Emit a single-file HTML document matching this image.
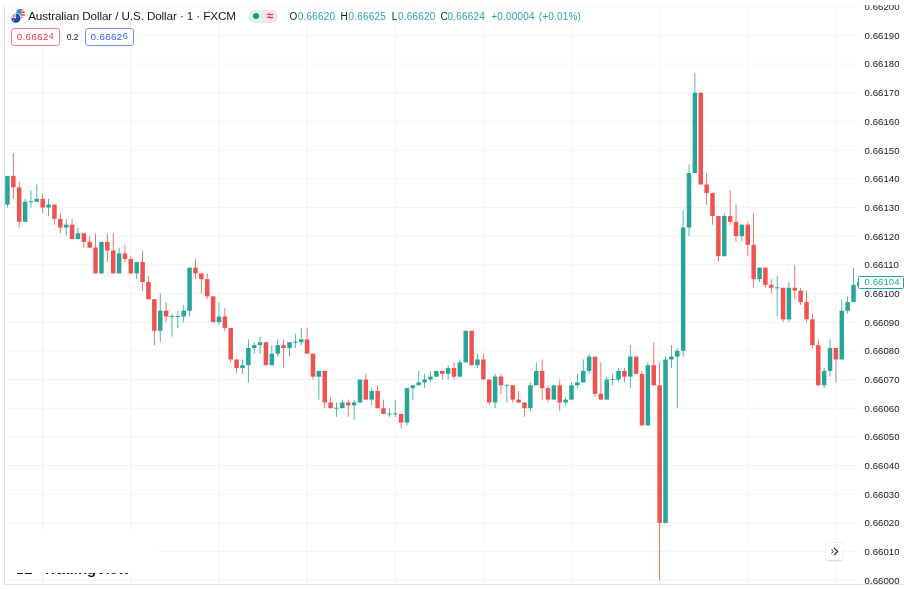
<!DOCTYPE html>
<html><head><meta charset="utf-8"><title>AUDUSD</title>
<style>
html,body{margin:0;padding:0;background:#fff;}
body{width:904px;height:589px;position:relative;overflow:hidden;font-family:"Liberation Sans",sans-serif;color:#131722;}
#clip{position:absolute;left:0;top:4.6px;width:904px;height:580px;overflow:hidden;}
#inner{position:absolute;left:0;top:-4.6px;width:904px;height:589px;}
svg{position:absolute;left:0;top:0;}
.g{stroke:#f3f4f6;stroke-width:1;}
.al{position:absolute;left:864.6px;width:40px;height:12px;line-height:12px;font-size:9.6px;letter-spacing:0.05px;color:#131722;white-space:nowrap;}
#lb{position:absolute;left:4px;top:5px;width:1px;height:580px;background:#dfe2ea;}
#bb{position:absolute;left:4px;top:584px;width:900px;height:1px;background:#dfe2ea;}
#title{position:absolute;left:28.2px;top:9.2px;height:14px;line-height:14px;font-size:11.7px;letter-spacing:-0.11px;white-space:nowrap;color:#131722;}
#ohlc{position:absolute;left:289.6px;top:10.5px;height:12px;line-height:12px;font-size:10px;white-space:nowrap;color:#131722;}
#ohlc span{color:#26a69a;}
#ohlc b,#ohlc span{font-weight:normal;position:absolute;top:0;letter-spacing:0.2px;}
.pill{position:absolute;left:248px;top:9.6px;width:29.6px;height:13px;border-radius:6.5px;overflow:hidden;background:#e1f3f0;}
.pill i{position:absolute;left:15px;top:0;width:15px;height:13px;background:#fbe2e9;}
.pill u{position:absolute;left:5.2px;top:3.4px;width:6.2px;height:6.2px;border-radius:50%;background:#0f9e82;}
.pill s{position:absolute;left:16px;top:-1px;width:12px;height:14px;line-height:14px;text-align:center;text-decoration:none;color:#e91e63;font-size:12px;font-weight:bold;font-style:italic;}
.bx{position:absolute;top:28.3px;height:15.4px;line-height:15.4px;border:1px solid;border-radius:3px;font-size:9.8px;letter-spacing:0.35px;text-align:center;box-sizing:content-box;background:#fff;}
.bx sup{font-size:8.8px;vertical-align:baseline;position:relative;top:-1.6px;}
#bid{left:10.8px;width:47.2px;color:#f23645;border-color:#f77c86;}
#ask{left:84.6px;width:47.3px;color:#2962ff;border-color:#6f95ff;}
#spr{position:absolute;left:66.7px;top:31px;font-size:8.6px;line-height:12px;color:#131722;}
#plab{position:absolute;left:858px;top:276.1px;width:43.5px;height:10.5px;border:1px solid #26a69a;border-radius:1.5px;background:#fff;color:#26a69a;font-size:9.6px;line-height:10.5px;letter-spacing:0.05px;padding-left:5.6px;box-sizing:content-box;width:38px;}
#ptick{position:absolute;left:856.6px;top:281.6px;width:2px;height:4.4px;border-radius:1px;background:#26a69a;}
#btn{position:absolute;left:826px;top:543px;width:17px;height:17px;border-radius:3px;background:#fff;box-shadow:0 0.5px 2px rgba(0,0,0,0.18);}
#cover{position:absolute;left:9px;top:530px;width:148.5px;height:42.3px;background:#fff;}
#tvw{position:absolute;left:10px;top:572.5px;width:140px;height:6px;overflow:hidden;}
#tvw div{position:absolute;left:32.6px;top:-12.6px;font-size:14.8px;line-height:18px;font-weight:bold;color:#131722;white-space:nowrap;letter-spacing:0px;}
#tvw em{position:absolute;top:0;height:1.6px;background:#131722;}
</style></head><body>
<div id="clip"><div id="inner">
<svg width="904" height="589" viewBox="0 0 904 589">
<line x1="5" x2="858" y1="580.30" y2="580.30" class="g"/>
<line x1="5" x2="858" y1="551.62" y2="551.62" class="g"/>
<line x1="5" x2="858" y1="522.94" y2="522.94" class="g"/>
<line x1="5" x2="858" y1="494.26" y2="494.26" class="g"/>
<line x1="5" x2="858" y1="465.58" y2="465.58" class="g"/>
<line x1="5" x2="858" y1="436.90" y2="436.90" class="g"/>
<line x1="5" x2="858" y1="408.22" y2="408.22" class="g"/>
<line x1="5" x2="858" y1="379.54" y2="379.54" class="g"/>
<line x1="5" x2="858" y1="350.86" y2="350.86" class="g"/>
<line x1="5" x2="858" y1="322.18" y2="322.18" class="g"/>
<line x1="5" x2="858" y1="293.50" y2="293.50" class="g"/>
<line x1="5" x2="858" y1="264.82" y2="264.82" class="g"/>
<line x1="5" x2="858" y1="236.14" y2="236.14" class="g"/>
<line x1="5" x2="858" y1="207.46" y2="207.46" class="g"/>
<line x1="5" x2="858" y1="178.78" y2="178.78" class="g"/>
<line x1="5" x2="858" y1="150.10" y2="150.10" class="g"/>
<line x1="5" x2="858" y1="121.42" y2="121.42" class="g"/>
<line x1="5" x2="858" y1="92.74" y2="92.74" class="g"/>
<line x1="5" x2="858" y1="64.06" y2="64.06" class="g"/>
<line x1="5" x2="858" y1="35.38" y2="35.38" class="g"/>
<line x1="5" x2="858" y1="6.70" y2="6.70" class="g"/>
<line x1="42.70" x2="42.70" y1="5" y2="584" class="g"/>
<line x1="130.83" x2="130.83" y1="5" y2="584" class="g"/>
<line x1="218.97" x2="218.97" y1="5" y2="584" class="g"/>
<line x1="307.10" x2="307.10" y1="5" y2="584" class="g"/>
<line x1="395.24" x2="395.24" y1="5" y2="584" class="g"/>
<line x1="483.37" x2="483.37" y1="5" y2="584" class="g"/>
<line x1="571.50" x2="571.50" y1="5" y2="584" class="g"/>
<line x1="659.64" x2="659.64" y1="5" y2="584" class="g"/>
<line x1="747.77" x2="747.77" y1="5" y2="584" class="g"/>
<line x1="835.91" x2="835.91" y1="5" y2="584" class="g"/>
</svg>
<div id="lb"></div>
<svg width="904" height="589" viewBox="0 0 904 589">
<defs><clipPath id="cp"><rect x="5" y="0" width="853" height="584"/></clipPath></defs>
<g clip-path="url(#cp)">
<rect x="7.05" y="175.91" width="0.8" height="31.55" fill="#26a69a"/>
<rect x="5.20" y="175.91" width="4.5" height="28.68" fill="#26a69a"/>
<rect x="12.92" y="152.97" width="0.8" height="45.89" fill="#ef5350"/>
<rect x="11.07" y="175.91" width="4.5" height="11.47" fill="#ef5350"/>
<rect x="18.80" y="181.65" width="0.8" height="45.89" fill="#ef5350"/>
<rect x="16.95" y="187.38" width="4.5" height="34.42" fill="#ef5350"/>
<rect x="24.67" y="198.86" width="0.8" height="22.94" fill="#26a69a"/>
<rect x="22.82" y="201.72" width="4.5" height="20.08" fill="#26a69a"/>
<rect x="30.55" y="190.25" width="0.8" height="17.21" fill="#26a69a"/>
<rect x="28.70" y="201.22" width="4.5" height="1.00" fill="#26a69a"/>
<rect x="36.42" y="184.52" width="0.8" height="17.21" fill="#26a69a"/>
<rect x="34.57" y="198.86" width="4.5" height="2.87" fill="#26a69a"/>
<rect x="42.30" y="193.12" width="0.8" height="20.08" fill="#ef5350"/>
<rect x="40.45" y="198.86" width="4.5" height="8.60" fill="#ef5350"/>
<rect x="48.18" y="198.86" width="0.8" height="17.21" fill="#26a69a"/>
<rect x="46.33" y="204.59" width="4.5" height="2.87" fill="#26a69a"/>
<rect x="54.05" y="204.59" width="0.8" height="20.08" fill="#ef5350"/>
<rect x="52.20" y="204.59" width="4.5" height="14.34" fill="#ef5350"/>
<rect x="59.93" y="213.20" width="0.8" height="20.08" fill="#ef5350"/>
<rect x="58.08" y="218.93" width="4.5" height="8.60" fill="#ef5350"/>
<rect x="65.80" y="218.93" width="0.8" height="17.21" fill="#26a69a"/>
<rect x="63.95" y="224.67" width="4.5" height="2.87" fill="#26a69a"/>
<rect x="71.68" y="218.93" width="0.8" height="20.08" fill="#ef5350"/>
<rect x="69.83" y="224.67" width="4.5" height="14.34" fill="#ef5350"/>
<rect x="77.55" y="227.54" width="0.8" height="11.47" fill="#26a69a"/>
<rect x="75.70" y="233.27" width="4.5" height="5.74" fill="#26a69a"/>
<rect x="83.43" y="233.27" width="0.8" height="14.34" fill="#ef5350"/>
<rect x="81.58" y="233.27" width="4.5" height="8.60" fill="#ef5350"/>
<rect x="89.30" y="236.14" width="0.8" height="11.47" fill="#ef5350"/>
<rect x="87.45" y="241.88" width="4.5" height="5.74" fill="#ef5350"/>
<rect x="95.18" y="233.27" width="0.8" height="40.15" fill="#ef5350"/>
<rect x="93.33" y="247.61" width="4.5" height="25.81" fill="#ef5350"/>
<rect x="101.06" y="241.88" width="0.8" height="31.55" fill="#26a69a"/>
<rect x="99.21" y="241.88" width="4.5" height="31.55" fill="#26a69a"/>
<rect x="106.93" y="233.27" width="0.8" height="28.68" fill="#ef5350"/>
<rect x="105.08" y="241.88" width="4.5" height="8.60" fill="#ef5350"/>
<rect x="112.81" y="233.27" width="0.8" height="40.15" fill="#ef5350"/>
<rect x="110.96" y="250.48" width="4.5" height="22.94" fill="#ef5350"/>
<rect x="118.68" y="247.61" width="0.8" height="25.81" fill="#26a69a"/>
<rect x="116.83" y="253.35" width="4.5" height="20.08" fill="#26a69a"/>
<rect x="124.56" y="244.74" width="0.8" height="17.21" fill="#ef5350"/>
<rect x="122.71" y="253.35" width="4.5" height="5.74" fill="#ef5350"/>
<rect x="130.43" y="256.22" width="0.8" height="17.21" fill="#ef5350"/>
<rect x="128.58" y="259.08" width="4.5" height="14.34" fill="#ef5350"/>
<rect x="136.31" y="261.95" width="0.8" height="17.21" fill="#26a69a"/>
<rect x="134.46" y="261.95" width="4.5" height="11.47" fill="#26a69a"/>
<rect x="142.19" y="250.48" width="0.8" height="40.15" fill="#ef5350"/>
<rect x="140.34" y="261.95" width="4.5" height="20.08" fill="#ef5350"/>
<rect x="148.06" y="276.29" width="0.8" height="22.94" fill="#ef5350"/>
<rect x="146.21" y="282.03" width="4.5" height="17.21" fill="#ef5350"/>
<rect x="153.94" y="299.24" width="0.8" height="45.89" fill="#ef5350"/>
<rect x="152.09" y="299.24" width="4.5" height="31.55" fill="#ef5350"/>
<rect x="159.81" y="293.50" width="0.8" height="48.76" fill="#26a69a"/>
<rect x="157.96" y="310.71" width="4.5" height="20.08" fill="#26a69a"/>
<rect x="165.69" y="302.10" width="0.8" height="20.08" fill="#ef5350"/>
<rect x="163.84" y="310.71" width="4.5" height="5.74" fill="#ef5350"/>
<rect x="171.56" y="313.58" width="0.8" height="22.94" fill="#26a69a"/>
<rect x="169.71" y="315.94" width="4.5" height="1.00" fill="#26a69a"/>
<rect x="177.44" y="310.71" width="0.8" height="17.21" fill="#26a69a"/>
<rect x="175.59" y="315.94" width="4.5" height="1.00" fill="#26a69a"/>
<rect x="183.31" y="304.97" width="0.8" height="17.21" fill="#26a69a"/>
<rect x="181.46" y="310.71" width="4.5" height="5.74" fill="#26a69a"/>
<rect x="189.19" y="267.69" width="0.8" height="48.76" fill="#26a69a"/>
<rect x="187.34" y="267.69" width="4.5" height="43.02" fill="#26a69a"/>
<rect x="195.07" y="259.08" width="0.8" height="20.08" fill="#ef5350"/>
<rect x="193.22" y="267.69" width="4.5" height="5.74" fill="#ef5350"/>
<rect x="200.94" y="273.42" width="0.8" height="20.08" fill="#ef5350"/>
<rect x="199.09" y="273.42" width="4.5" height="5.74" fill="#ef5350"/>
<rect x="206.82" y="273.42" width="0.8" height="25.81" fill="#ef5350"/>
<rect x="204.97" y="279.16" width="4.5" height="17.21" fill="#ef5350"/>
<rect x="212.69" y="296.37" width="0.8" height="25.81" fill="#ef5350"/>
<rect x="210.84" y="296.37" width="4.5" height="25.81" fill="#ef5350"/>
<rect x="218.57" y="302.10" width="0.8" height="22.94" fill="#26a69a"/>
<rect x="216.72" y="316.44" width="4.5" height="5.74" fill="#26a69a"/>
<rect x="224.44" y="307.84" width="0.8" height="22.94" fill="#ef5350"/>
<rect x="222.59" y="316.44" width="4.5" height="11.47" fill="#ef5350"/>
<rect x="230.32" y="327.92" width="0.8" height="34.42" fill="#ef5350"/>
<rect x="228.47" y="327.92" width="4.5" height="31.55" fill="#ef5350"/>
<rect x="236.19" y="359.46" width="0.8" height="14.34" fill="#ef5350"/>
<rect x="234.34" y="359.46" width="4.5" height="8.60" fill="#ef5350"/>
<rect x="242.07" y="359.46" width="0.8" height="14.34" fill="#26a69a"/>
<rect x="240.22" y="365.20" width="4.5" height="2.87" fill="#26a69a"/>
<rect x="247.95" y="339.39" width="0.8" height="43.02" fill="#26a69a"/>
<rect x="246.10" y="347.99" width="4.5" height="17.21" fill="#26a69a"/>
<rect x="253.82" y="342.26" width="0.8" height="11.47" fill="#26a69a"/>
<rect x="251.97" y="345.12" width="4.5" height="2.87" fill="#26a69a"/>
<rect x="259.70" y="336.52" width="0.8" height="17.21" fill="#26a69a"/>
<rect x="257.85" y="342.26" width="4.5" height="2.87" fill="#26a69a"/>
<rect x="265.57" y="342.26" width="0.8" height="22.94" fill="#ef5350"/>
<rect x="263.72" y="342.26" width="4.5" height="22.94" fill="#ef5350"/>
<rect x="271.45" y="345.12" width="0.8" height="20.08" fill="#26a69a"/>
<rect x="269.60" y="353.73" width="4.5" height="11.47" fill="#26a69a"/>
<rect x="277.32" y="339.39" width="0.8" height="17.21" fill="#26a69a"/>
<rect x="275.47" y="345.12" width="4.5" height="8.60" fill="#26a69a"/>
<rect x="283.20" y="339.39" width="0.8" height="28.68" fill="#ef5350"/>
<rect x="281.35" y="345.12" width="4.5" height="2.87" fill="#ef5350"/>
<rect x="289.08" y="342.26" width="0.8" height="14.34" fill="#26a69a"/>
<rect x="287.23" y="342.26" width="4.5" height="5.74" fill="#26a69a"/>
<rect x="294.95" y="333.65" width="0.8" height="14.34" fill="#26a69a"/>
<rect x="293.10" y="341.76" width="4.5" height="1.00" fill="#26a69a"/>
<rect x="300.83" y="327.92" width="0.8" height="17.21" fill="#26a69a"/>
<rect x="298.98" y="339.39" width="4.5" height="2.87" fill="#26a69a"/>
<rect x="306.70" y="327.92" width="0.8" height="25.81" fill="#ef5350"/>
<rect x="304.85" y="339.39" width="4.5" height="14.34" fill="#ef5350"/>
<rect x="312.58" y="353.73" width="0.8" height="25.81" fill="#ef5350"/>
<rect x="310.73" y="353.73" width="4.5" height="22.94" fill="#ef5350"/>
<rect x="318.45" y="370.94" width="0.8" height="28.68" fill="#26a69a"/>
<rect x="316.60" y="370.94" width="4.5" height="5.74" fill="#26a69a"/>
<rect x="324.33" y="370.94" width="0.8" height="37.28" fill="#ef5350"/>
<rect x="322.48" y="370.94" width="4.5" height="31.55" fill="#ef5350"/>
<rect x="330.20" y="396.75" width="0.8" height="11.47" fill="#ef5350"/>
<rect x="328.35" y="402.48" width="4.5" height="5.74" fill="#ef5350"/>
<rect x="336.08" y="402.48" width="0.8" height="14.34" fill="#26a69a"/>
<rect x="334.23" y="407.72" width="4.5" height="1.00" fill="#26a69a"/>
<rect x="341.96" y="399.62" width="0.8" height="8.60" fill="#26a69a"/>
<rect x="340.11" y="402.48" width="4.5" height="5.74" fill="#26a69a"/>
<rect x="347.83" y="399.62" width="0.8" height="17.21" fill="#ef5350"/>
<rect x="345.98" y="402.48" width="4.5" height="2.87" fill="#ef5350"/>
<rect x="353.71" y="399.62" width="0.8" height="20.08" fill="#26a69a"/>
<rect x="351.86" y="402.48" width="4.5" height="2.87" fill="#26a69a"/>
<rect x="359.58" y="379.54" width="0.8" height="22.94" fill="#26a69a"/>
<rect x="357.73" y="379.54" width="4.5" height="22.94" fill="#26a69a"/>
<rect x="365.46" y="373.80" width="0.8" height="25.81" fill="#ef5350"/>
<rect x="363.61" y="379.54" width="4.5" height="20.08" fill="#ef5350"/>
<rect x="371.33" y="388.14" width="0.8" height="17.21" fill="#26a69a"/>
<rect x="369.48" y="391.01" width="4.5" height="8.60" fill="#26a69a"/>
<rect x="377.21" y="385.28" width="0.8" height="22.94" fill="#ef5350"/>
<rect x="375.36" y="391.01" width="4.5" height="17.21" fill="#ef5350"/>
<rect x="383.08" y="399.62" width="0.8" height="14.34" fill="#ef5350"/>
<rect x="381.23" y="408.22" width="4.5" height="5.74" fill="#ef5350"/>
<rect x="388.96" y="408.22" width="0.8" height="8.60" fill="#26a69a"/>
<rect x="387.11" y="413.46" width="4.5" height="1.00" fill="#26a69a"/>
<rect x="394.84" y="399.62" width="0.8" height="17.21" fill="#26a69a"/>
<rect x="392.99" y="413.46" width="4.5" height="1.00" fill="#26a69a"/>
<rect x="400.71" y="413.96" width="0.8" height="14.34" fill="#ef5350"/>
<rect x="398.86" y="413.96" width="4.5" height="8.60" fill="#ef5350"/>
<rect x="406.59" y="388.14" width="0.8" height="37.28" fill="#26a69a"/>
<rect x="404.74" y="388.14" width="4.5" height="34.42" fill="#26a69a"/>
<rect x="412.46" y="385.28" width="0.8" height="14.34" fill="#26a69a"/>
<rect x="410.61" y="385.28" width="4.5" height="2.87" fill="#26a69a"/>
<rect x="418.34" y="370.94" width="0.8" height="14.34" fill="#26a69a"/>
<rect x="416.49" y="382.41" width="4.5" height="2.87" fill="#26a69a"/>
<rect x="424.21" y="373.80" width="0.8" height="14.34" fill="#26a69a"/>
<rect x="422.36" y="379.54" width="4.5" height="2.87" fill="#26a69a"/>
<rect x="430.09" y="370.94" width="0.8" height="11.47" fill="#26a69a"/>
<rect x="428.24" y="376.67" width="4.5" height="2.87" fill="#26a69a"/>
<rect x="435.97" y="370.94" width="0.8" height="5.74" fill="#26a69a"/>
<rect x="434.12" y="370.94" width="4.5" height="5.74" fill="#26a69a"/>
<rect x="441.84" y="370.94" width="0.8" height="8.60" fill="#ef5350"/>
<rect x="439.99" y="370.94" width="4.5" height="2.87" fill="#ef5350"/>
<rect x="447.72" y="365.20" width="0.8" height="14.34" fill="#26a69a"/>
<rect x="445.87" y="368.07" width="4.5" height="5.74" fill="#26a69a"/>
<rect x="453.59" y="362.33" width="0.8" height="17.21" fill="#ef5350"/>
<rect x="451.74" y="368.07" width="4.5" height="8.60" fill="#ef5350"/>
<rect x="459.47" y="359.46" width="0.8" height="17.21" fill="#26a69a"/>
<rect x="457.62" y="362.33" width="4.5" height="14.34" fill="#26a69a"/>
<rect x="465.34" y="330.78" width="0.8" height="31.55" fill="#26a69a"/>
<rect x="463.49" y="330.78" width="4.5" height="31.55" fill="#26a69a"/>
<rect x="471.22" y="330.78" width="0.8" height="34.42" fill="#ef5350"/>
<rect x="469.37" y="330.78" width="4.5" height="34.42" fill="#ef5350"/>
<rect x="477.09" y="353.73" width="0.8" height="14.34" fill="#26a69a"/>
<rect x="475.24" y="359.46" width="4.5" height="5.74" fill="#26a69a"/>
<rect x="482.97" y="353.73" width="0.8" height="25.81" fill="#ef5350"/>
<rect x="481.12" y="359.46" width="4.5" height="20.08" fill="#ef5350"/>
<rect x="488.85" y="379.54" width="0.8" height="25.81" fill="#ef5350"/>
<rect x="487.00" y="379.54" width="4.5" height="22.94" fill="#ef5350"/>
<rect x="494.72" y="373.80" width="0.8" height="34.42" fill="#26a69a"/>
<rect x="492.87" y="376.67" width="4.5" height="25.81" fill="#26a69a"/>
<rect x="500.60" y="373.80" width="0.8" height="20.08" fill="#ef5350"/>
<rect x="498.75" y="376.67" width="4.5" height="8.60" fill="#ef5350"/>
<rect x="506.47" y="385.28" width="0.8" height="17.21" fill="#26a69a"/>
<rect x="504.62" y="384.78" width="4.5" height="1.00" fill="#26a69a"/>
<rect x="512.35" y="385.28" width="0.8" height="17.21" fill="#ef5350"/>
<rect x="510.50" y="385.28" width="4.5" height="14.34" fill="#ef5350"/>
<rect x="518.22" y="391.01" width="0.8" height="11.47" fill="#ef5350"/>
<rect x="516.37" y="399.62" width="4.5" height="2.87" fill="#ef5350"/>
<rect x="524.10" y="402.48" width="0.8" height="14.34" fill="#ef5350"/>
<rect x="522.25" y="402.48" width="4.5" height="5.74" fill="#ef5350"/>
<rect x="529.97" y="382.41" width="0.8" height="28.68" fill="#26a69a"/>
<rect x="528.12" y="385.28" width="4.5" height="22.94" fill="#26a69a"/>
<rect x="535.85" y="362.33" width="0.8" height="22.94" fill="#26a69a"/>
<rect x="534.00" y="370.94" width="4.5" height="14.34" fill="#26a69a"/>
<rect x="541.73" y="359.46" width="0.8" height="40.15" fill="#ef5350"/>
<rect x="539.88" y="370.94" width="4.5" height="17.21" fill="#ef5350"/>
<rect x="547.60" y="385.28" width="0.8" height="17.21" fill="#ef5350"/>
<rect x="545.75" y="388.14" width="4.5" height="11.47" fill="#ef5350"/>
<rect x="553.48" y="385.28" width="0.8" height="14.34" fill="#26a69a"/>
<rect x="551.63" y="385.28" width="4.5" height="14.34" fill="#26a69a"/>
<rect x="559.35" y="379.54" width="0.8" height="31.55" fill="#ef5350"/>
<rect x="557.50" y="385.28" width="4.5" height="17.21" fill="#ef5350"/>
<rect x="565.23" y="396.75" width="0.8" height="8.60" fill="#26a69a"/>
<rect x="563.38" y="399.62" width="4.5" height="2.87" fill="#26a69a"/>
<rect x="571.10" y="382.41" width="0.8" height="17.21" fill="#26a69a"/>
<rect x="569.25" y="385.28" width="4.5" height="14.34" fill="#26a69a"/>
<rect x="576.98" y="373.80" width="0.8" height="14.34" fill="#26a69a"/>
<rect x="575.13" y="382.41" width="4.5" height="2.87" fill="#26a69a"/>
<rect x="582.86" y="359.46" width="0.8" height="22.94" fill="#26a69a"/>
<rect x="581.01" y="370.94" width="4.5" height="11.47" fill="#26a69a"/>
<rect x="588.73" y="353.73" width="0.8" height="20.08" fill="#26a69a"/>
<rect x="586.88" y="356.60" width="4.5" height="14.34" fill="#26a69a"/>
<rect x="594.61" y="356.60" width="0.8" height="40.15" fill="#ef5350"/>
<rect x="592.76" y="356.60" width="4.5" height="37.28" fill="#ef5350"/>
<rect x="600.48" y="362.33" width="0.8" height="37.28" fill="#ef5350"/>
<rect x="598.63" y="393.88" width="4.5" height="5.74" fill="#ef5350"/>
<rect x="606.36" y="376.67" width="0.8" height="22.94" fill="#26a69a"/>
<rect x="604.51" y="379.54" width="4.5" height="20.08" fill="#26a69a"/>
<rect x="612.23" y="373.80" width="0.8" height="11.47" fill="#26a69a"/>
<rect x="610.38" y="379.04" width="4.5" height="1.00" fill="#26a69a"/>
<rect x="618.11" y="368.07" width="0.8" height="14.34" fill="#26a69a"/>
<rect x="616.26" y="370.94" width="4.5" height="8.60" fill="#26a69a"/>
<rect x="623.98" y="368.07" width="0.8" height="14.34" fill="#ef5350"/>
<rect x="622.13" y="370.94" width="4.5" height="5.74" fill="#ef5350"/>
<rect x="629.86" y="345.12" width="0.8" height="43.02" fill="#26a69a"/>
<rect x="628.01" y="356.60" width="4.5" height="20.08" fill="#26a69a"/>
<rect x="635.74" y="356.60" width="0.8" height="17.21" fill="#ef5350"/>
<rect x="633.89" y="356.60" width="4.5" height="17.21" fill="#ef5350"/>
<rect x="641.61" y="370.94" width="0.8" height="54.49" fill="#ef5350"/>
<rect x="639.76" y="373.80" width="4.5" height="51.62" fill="#ef5350"/>
<rect x="647.49" y="362.33" width="0.8" height="63.10" fill="#26a69a"/>
<rect x="645.64" y="365.20" width="4.5" height="60.23" fill="#26a69a"/>
<rect x="653.36" y="342.26" width="0.8" height="43.02" fill="#ef5350"/>
<rect x="651.51" y="365.20" width="4.5" height="20.08" fill="#ef5350"/>
<rect x="659.24" y="362.33" width="0.8" height="217.97" fill="#ef5350"/>
<rect x="657.39" y="385.28" width="4.5" height="137.66" fill="#ef5350"/>
<rect x="665.11" y="356.60" width="0.8" height="166.34" fill="#26a69a"/>
<rect x="663.26" y="359.46" width="4.5" height="163.48" fill="#26a69a"/>
<rect x="670.99" y="345.12" width="0.8" height="22.94" fill="#26a69a"/>
<rect x="669.14" y="356.60" width="4.5" height="2.87" fill="#26a69a"/>
<rect x="676.86" y="347.99" width="0.8" height="60.23" fill="#26a69a"/>
<rect x="675.01" y="350.86" width="4.5" height="5.74" fill="#26a69a"/>
<rect x="682.74" y="210.33" width="0.8" height="146.27" fill="#26a69a"/>
<rect x="680.89" y="227.54" width="4.5" height="123.32" fill="#26a69a"/>
<rect x="688.62" y="164.44" width="0.8" height="71.70" fill="#26a69a"/>
<rect x="686.77" y="173.04" width="4.5" height="54.49" fill="#26a69a"/>
<rect x="694.49" y="72.66" width="0.8" height="100.38" fill="#26a69a"/>
<rect x="692.64" y="92.74" width="4.5" height="80.30" fill="#26a69a"/>
<rect x="700.37" y="92.74" width="0.8" height="91.78" fill="#ef5350"/>
<rect x="698.52" y="92.74" width="4.5" height="91.78" fill="#ef5350"/>
<rect x="706.24" y="173.04" width="0.8" height="31.55" fill="#ef5350"/>
<rect x="704.39" y="184.52" width="4.5" height="8.60" fill="#ef5350"/>
<rect x="712.12" y="193.12" width="0.8" height="31.55" fill="#ef5350"/>
<rect x="710.27" y="193.12" width="4.5" height="22.94" fill="#ef5350"/>
<rect x="717.99" y="216.06" width="0.8" height="45.89" fill="#ef5350"/>
<rect x="716.14" y="216.06" width="4.5" height="40.15" fill="#ef5350"/>
<rect x="723.87" y="213.20" width="0.8" height="43.02" fill="#26a69a"/>
<rect x="722.02" y="216.06" width="4.5" height="40.15" fill="#26a69a"/>
<rect x="729.75" y="190.25" width="0.8" height="34.42" fill="#ef5350"/>
<rect x="727.90" y="216.06" width="4.5" height="5.74" fill="#ef5350"/>
<rect x="735.62" y="204.59" width="0.8" height="37.28" fill="#ef5350"/>
<rect x="733.77" y="221.80" width="4.5" height="14.34" fill="#ef5350"/>
<rect x="741.50" y="224.67" width="0.8" height="17.21" fill="#26a69a"/>
<rect x="739.65" y="224.67" width="4.5" height="11.47" fill="#26a69a"/>
<rect x="747.37" y="221.80" width="0.8" height="34.42" fill="#ef5350"/>
<rect x="745.52" y="224.67" width="4.5" height="20.08" fill="#ef5350"/>
<rect x="753.25" y="213.20" width="0.8" height="74.57" fill="#ef5350"/>
<rect x="751.40" y="244.74" width="4.5" height="34.42" fill="#ef5350"/>
<rect x="759.12" y="267.69" width="0.8" height="14.34" fill="#26a69a"/>
<rect x="757.27" y="267.69" width="4.5" height="11.47" fill="#26a69a"/>
<rect x="765.00" y="267.69" width="0.8" height="20.08" fill="#ef5350"/>
<rect x="763.15" y="267.69" width="4.5" height="17.21" fill="#ef5350"/>
<rect x="770.87" y="279.16" width="0.8" height="14.34" fill="#ef5350"/>
<rect x="769.02" y="284.90" width="4.5" height="2.87" fill="#ef5350"/>
<rect x="776.75" y="276.29" width="0.8" height="40.15" fill="#26a69a"/>
<rect x="774.90" y="287.26" width="4.5" height="1.00" fill="#26a69a"/>
<rect x="782.63" y="287.76" width="0.8" height="34.42" fill="#ef5350"/>
<rect x="780.78" y="287.76" width="4.5" height="31.55" fill="#ef5350"/>
<rect x="788.50" y="282.03" width="0.8" height="40.15" fill="#26a69a"/>
<rect x="786.65" y="287.76" width="4.5" height="31.55" fill="#26a69a"/>
<rect x="794.38" y="264.82" width="0.8" height="34.42" fill="#ef5350"/>
<rect x="792.53" y="287.76" width="4.5" height="2.87" fill="#ef5350"/>
<rect x="800.25" y="287.76" width="0.8" height="17.21" fill="#ef5350"/>
<rect x="798.40" y="290.63" width="4.5" height="11.47" fill="#ef5350"/>
<rect x="806.13" y="290.63" width="0.8" height="31.55" fill="#ef5350"/>
<rect x="804.28" y="302.10" width="4.5" height="17.21" fill="#ef5350"/>
<rect x="812.00" y="313.58" width="0.8" height="34.42" fill="#ef5350"/>
<rect x="810.15" y="319.31" width="4.5" height="25.81" fill="#ef5350"/>
<rect x="817.88" y="339.39" width="0.8" height="45.89" fill="#ef5350"/>
<rect x="816.03" y="345.12" width="4.5" height="40.15" fill="#ef5350"/>
<rect x="823.75" y="368.07" width="0.8" height="20.08" fill="#26a69a"/>
<rect x="821.90" y="370.94" width="4.5" height="14.34" fill="#26a69a"/>
<rect x="829.63" y="339.39" width="0.8" height="37.28" fill="#26a69a"/>
<rect x="827.78" y="347.99" width="4.5" height="22.94" fill="#26a69a"/>
<rect x="835.51" y="347.99" width="0.8" height="34.42" fill="#ef5350"/>
<rect x="833.66" y="347.99" width="4.5" height="11.47" fill="#ef5350"/>
<rect x="841.38" y="299.24" width="0.8" height="60.23" fill="#26a69a"/>
<rect x="839.53" y="310.71" width="4.5" height="48.76" fill="#26a69a"/>
<rect x="847.26" y="296.37" width="0.8" height="17.21" fill="#26a69a"/>
<rect x="845.41" y="302.10" width="4.5" height="8.60" fill="#26a69a"/>
<rect x="853.13" y="267.69" width="0.8" height="34.42" fill="#26a69a"/>
<rect x="851.28" y="284.90" width="4.5" height="17.21" fill="#26a69a"/>
</g>
</svg>
<div class="al" style="top:574.70px">0.66000</div>
<div class="al" style="top:546.02px">0.66010</div>
<div class="al" style="top:517.34px">0.66020</div>
<div class="al" style="top:488.66px">0.66030</div>
<div class="al" style="top:459.98px">0.66040</div>
<div class="al" style="top:431.30px">0.66050</div>
<div class="al" style="top:402.62px">0.66060</div>
<div class="al" style="top:373.94px">0.66070</div>
<div class="al" style="top:345.26px">0.66080</div>
<div class="al" style="top:316.58px">0.66090</div>
<div class="al" style="top:287.90px">0.66100</div>
<div class="al" style="top:259.22px">0.66110</div>
<div class="al" style="top:230.54px">0.66120</div>
<div class="al" style="top:201.86px">0.66130</div>
<div class="al" style="top:173.18px">0.66140</div>
<div class="al" style="top:144.50px">0.66150</div>
<div class="al" style="top:115.82px">0.66160</div>
<div class="al" style="top:87.14px">0.66170</div>
<div class="al" style="top:58.46px">0.66180</div>
<div class="al" style="top:29.78px">0.66190</div>
<div class="al" style="top:1.10px">0.66200</div>
<div id="ptick"></div><div id="plab">0.66104</div>
<svg width="904" height="589" viewBox="0 0 904 589">
<g id="flags">
<circle cx="20.7" cy="13.6" r="4.6" fill="#fff"/>
<clipPath id="us"><circle cx="20.7" cy="13.6" r="4.6"/></clipPath>
<g clip-path="url(#us)">
<rect x="16" y="9" width="10" height="10" fill="#fff"/>
<rect x="16" y="9" width="10" height="1.4" fill="#f44336"/>
<rect x="16" y="11.6" width="10" height="1.4" fill="#f44336"/>
<rect x="16" y="14.2" width="10" height="1.4" fill="#f44336"/>
<rect x="16" y="16.8" width="10" height="1.4" fill="#f44336"/>
<rect x="16" y="9" width="5.2" height="5.6" fill="#2196f3"/>
</g>
<circle cx="15.95" cy="18.2" r="5.4" fill="#fff"/>
<circle cx="15.95" cy="18.2" r="4.6" fill="#0d47a1"/>
<clipPath id="au"><circle cx="15.95" cy="18.2" r="4.6"/></clipPath>
<g clip-path="url(#au)">
<path d="M11 13.5 L16 18.2 M16 13.5 L11 18.2" stroke="#fff" stroke-width="1.2" fill="none"/>
<path d="M13.6 13 V18.4 M11 15.8 H16.2" stroke="#fff" stroke-width="1.4" fill="none"/>
<path d="M13.6 13 V18.4 M11 15.8 H16.2" stroke="#f44336" stroke-width="0.7" fill="none"/>
<circle cx="13.8" cy="20.3" r="0.6" fill="#fff"/><circle cx="18.2" cy="17" r="0.45" fill="#fff"/><circle cx="18" cy="20.4" r="0.45" fill="#fff"/>
</g>
</g>
</svg>
<div id="title">Australian Dollar / U.S. Dollar · 1 · FXCM</div>
<div class="pill"><i></i><u></u><s>≈</s></div>
<div id="ohlc"><b id="o1" style="left:0">O</b><span id="v1" style="left:8.1px">0.66620</span><b id="o2" style="left:50.9px">H</b><span id="v2" style="left:58.9px">0.66625</span><b id="o3" style="left:102.1px">L</b><span id="v3" style="left:108.4px">0.66620</span><b id="o4" style="left:150.9px">C</b><span id="v4" style="left:157.9px">0.66624</span><span id="v5" style="left:201.6px">+0.00004</span><span id="v6" style="left:249.1px">(+0.01%)</span></div>
<div class="bx" id="bid">0.6662<sup>4</sup></div>
<div id="spr">0.2</div>
<div class="bx" id="ask">0.6662<sup>6</sup></div>
<div id="cover"></div>
<div id="tvw"><em style="left:7.4px;width:6px"></em><em style="left:15px;width:7px"></em><div>TradingView</div></div>
<div id="btn"><svg width="17" height="17" viewBox="0 0 17 17"><path d="M5.4 6.6 L7.4 8.5 L5.4 10.4" fill="none" stroke="#131722" stroke-width="1"/><path d="M8 4.8 L11.7 8.5 L8 12.2" fill="none" stroke="#131722" stroke-width="1.1"/></svg></div>
<div id="bb"></div>
</div></div>
</body></html>
